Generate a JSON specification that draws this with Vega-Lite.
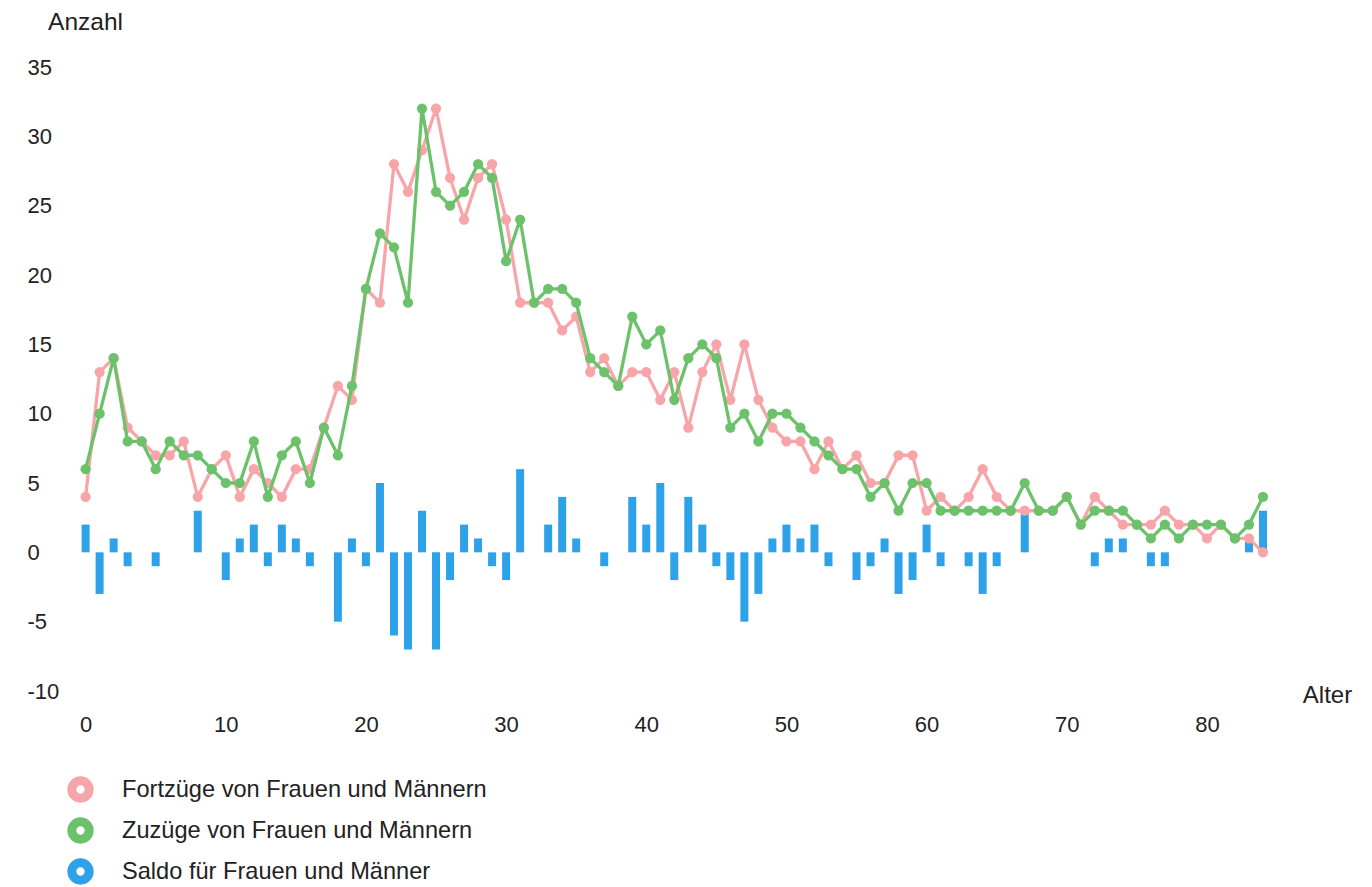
{
  "$schema": "https://vega.github.io/schema/vega-lite/v6.json",
  "width": 1200,
  "height": 624,
  "autosize": {"type": "none"},
  "padding": {"left": 75, "top": 67, "right": 97, "bottom": 196},
  "background": "white",
  "config": {
    "view": {"stroke": null},
    "font": "Liberation Sans",
    "axis": {"labelColor": "#222222", "titleColor": "#222222", "labelFont": "Liberation Sans", "titleFont": "Liberation Sans", "titleFontWeight": "normal"},
    "legend": {"labelFont": "Liberation Sans", "labelColor": "#222222"}
  },
  "data": {
    "values": [
      {"age": 0, "Fortzuege": 4, "Zuzuege": 6, "Saldo": 2},
      {"age": 1, "Fortzuege": 13, "Zuzuege": 10, "Saldo": -3},
      {"age": 2, "Fortzuege": 14, "Zuzuege": 14, "Saldo": 1},
      {"age": 3, "Fortzuege": 9, "Zuzuege": 8, "Saldo": -1},
      {"age": 4, "Fortzuege": 8, "Zuzuege": 8, "Saldo": 0},
      {"age": 5, "Fortzuege": 7, "Zuzuege": 6, "Saldo": -1},
      {"age": 6, "Fortzuege": 7, "Zuzuege": 8, "Saldo": 0},
      {"age": 7, "Fortzuege": 8, "Zuzuege": 7, "Saldo": 0},
      {"age": 8, "Fortzuege": 4, "Zuzuege": 7, "Saldo": 3},
      {"age": 9, "Fortzuege": 6, "Zuzuege": 6, "Saldo": 0},
      {"age": 10, "Fortzuege": 7, "Zuzuege": 5, "Saldo": -2},
      {"age": 11, "Fortzuege": 4, "Zuzuege": 5, "Saldo": 1},
      {"age": 12, "Fortzuege": 6, "Zuzuege": 8, "Saldo": 2},
      {"age": 13, "Fortzuege": 5, "Zuzuege": 4, "Saldo": -1},
      {"age": 14, "Fortzuege": 4, "Zuzuege": 7, "Saldo": 2},
      {"age": 15, "Fortzuege": 6, "Zuzuege": 8, "Saldo": 1},
      {"age": 16, "Fortzuege": 6, "Zuzuege": 5, "Saldo": -1},
      {"age": 17, "Fortzuege": 9, "Zuzuege": 9, "Saldo": 0},
      {"age": 18, "Fortzuege": 12, "Zuzuege": 7, "Saldo": -5},
      {"age": 19, "Fortzuege": 11, "Zuzuege": 12, "Saldo": 1},
      {"age": 20, "Fortzuege": 19, "Zuzuege": 19, "Saldo": -1},
      {"age": 21, "Fortzuege": 18, "Zuzuege": 23, "Saldo": 5},
      {"age": 22, "Fortzuege": 28, "Zuzuege": 22, "Saldo": -6},
      {"age": 23, "Fortzuege": 26, "Zuzuege": 18, "Saldo": -7},
      {"age": 24, "Fortzuege": 29, "Zuzuege": 32, "Saldo": 3},
      {"age": 25, "Fortzuege": 32, "Zuzuege": 26, "Saldo": -7},
      {"age": 26, "Fortzuege": 27, "Zuzuege": 25, "Saldo": -2},
      {"age": 27, "Fortzuege": 24, "Zuzuege": 26, "Saldo": 2},
      {"age": 28, "Fortzuege": 27, "Zuzuege": 28, "Saldo": 1},
      {"age": 29, "Fortzuege": 28, "Zuzuege": 27, "Saldo": -1},
      {"age": 30, "Fortzuege": 24, "Zuzuege": 21, "Saldo": -2},
      {"age": 31, "Fortzuege": 18, "Zuzuege": 24, "Saldo": 6},
      {"age": 32, "Fortzuege": 18, "Zuzuege": 18, "Saldo": 0},
      {"age": 33, "Fortzuege": 18, "Zuzuege": 19, "Saldo": 2},
      {"age": 34, "Fortzuege": 16, "Zuzuege": 19, "Saldo": 4},
      {"age": 35, "Fortzuege": 17, "Zuzuege": 18, "Saldo": 1},
      {"age": 36, "Fortzuege": 13, "Zuzuege": 14, "Saldo": 0},
      {"age": 37, "Fortzuege": 14, "Zuzuege": 13, "Saldo": -1},
      {"age": 38, "Fortzuege": 12, "Zuzuege": 12, "Saldo": 0},
      {"age": 39, "Fortzuege": 13, "Zuzuege": 17, "Saldo": 4},
      {"age": 40, "Fortzuege": 13, "Zuzuege": 15, "Saldo": 2},
      {"age": 41, "Fortzuege": 11, "Zuzuege": 16, "Saldo": 5},
      {"age": 42, "Fortzuege": 13, "Zuzuege": 11, "Saldo": -2},
      {"age": 43, "Fortzuege": 9, "Zuzuege": 14, "Saldo": 4},
      {"age": 44, "Fortzuege": 13, "Zuzuege": 15, "Saldo": 2},
      {"age": 45, "Fortzuege": 15, "Zuzuege": 14, "Saldo": -1},
      {"age": 46, "Fortzuege": 11, "Zuzuege": 9, "Saldo": -2},
      {"age": 47, "Fortzuege": 15, "Zuzuege": 10, "Saldo": -5},
      {"age": 48, "Fortzuege": 11, "Zuzuege": 8, "Saldo": -3},
      {"age": 49, "Fortzuege": 9, "Zuzuege": 10, "Saldo": 1},
      {"age": 50, "Fortzuege": 8, "Zuzuege": 10, "Saldo": 2},
      {"age": 51, "Fortzuege": 8, "Zuzuege": 9, "Saldo": 1},
      {"age": 52, "Fortzuege": 6, "Zuzuege": 8, "Saldo": 2},
      {"age": 53, "Fortzuege": 8, "Zuzuege": 7, "Saldo": -1},
      {"age": 54, "Fortzuege": 6, "Zuzuege": 6, "Saldo": 0},
      {"age": 55, "Fortzuege": 7, "Zuzuege": 6, "Saldo": -2},
      {"age": 56, "Fortzuege": 5, "Zuzuege": 4, "Saldo": -1},
      {"age": 57, "Fortzuege": 5, "Zuzuege": 5, "Saldo": 1},
      {"age": 58, "Fortzuege": 7, "Zuzuege": 3, "Saldo": -3},
      {"age": 59, "Fortzuege": 7, "Zuzuege": 5, "Saldo": -2},
      {"age": 60, "Fortzuege": 3, "Zuzuege": 5, "Saldo": 2},
      {"age": 61, "Fortzuege": 4, "Zuzuege": 3, "Saldo": -1},
      {"age": 62, "Fortzuege": 3, "Zuzuege": 3, "Saldo": 0},
      {"age": 63, "Fortzuege": 4, "Zuzuege": 3, "Saldo": -1},
      {"age": 64, "Fortzuege": 6, "Zuzuege": 3, "Saldo": -3},
      {"age": 65, "Fortzuege": 4, "Zuzuege": 3, "Saldo": -1},
      {"age": 66, "Fortzuege": 3, "Zuzuege": 3, "Saldo": 0},
      {"age": 67, "Fortzuege": 3, "Zuzuege": 5, "Saldo": 3},
      {"age": 68, "Fortzuege": 3, "Zuzuege": 3, "Saldo": 0},
      {"age": 69, "Fortzuege": 3, "Zuzuege": 3, "Saldo": 0},
      {"age": 70, "Fortzuege": 4, "Zuzuege": 4, "Saldo": 0},
      {"age": 71, "Fortzuege": 2, "Zuzuege": 2, "Saldo": 0},
      {"age": 72, "Fortzuege": 4, "Zuzuege": 3, "Saldo": -1},
      {"age": 73, "Fortzuege": 3, "Zuzuege": 3, "Saldo": 1},
      {"age": 74, "Fortzuege": 2, "Zuzuege": 3, "Saldo": 1},
      {"age": 75, "Fortzuege": 2, "Zuzuege": 2, "Saldo": 0},
      {"age": 76, "Fortzuege": 2, "Zuzuege": 1, "Saldo": -1},
      {"age": 77, "Fortzuege": 3, "Zuzuege": 2, "Saldo": -1},
      {"age": 78, "Fortzuege": 2, "Zuzuege": 1, "Saldo": 0},
      {"age": 79, "Fortzuege": 2, "Zuzuege": 2, "Saldo": 0},
      {"age": 80, "Fortzuege": 1, "Zuzuege": 2, "Saldo": 0},
      {"age": 81, "Fortzuege": 2, "Zuzuege": 2, "Saldo": 0},
      {"age": 82, "Fortzuege": 1, "Zuzuege": 1, "Saldo": 0},
      {"age": 83, "Fortzuege": 1, "Zuzuege": 2, "Saldo": 1},
      {"age": 84, "Fortzuege": 0, "Zuzuege": 4, "Saldo": 3}
    ]
  },
  "encoding": {
    "x": {
      "field": "age",
      "type": "quantitative",
      "scale": {"domain": [-0.4, 84.5], "nice": false, "zero": false},
      "axis": {
        "values": [0, 10, 20, 30, 40, 50, 60, 70, 80],
        "title": "Alter",
        "grid": false,
        "domain": false,
        "ticks": false,
        "tickSize": 0,
        "labelFontSize": 22,
        "labelPadding": 33,
        "labelBaseline": "middle",
        "titleFontSize": 24,
        "titleX": 1252,
        "titleY": 4,
        "titleAlign": "center",
        "titleBaseline": "middle",
        "titleAnchor": null
      }
    }
  },
  "layer": [
    {
      "mark": {"type": "bar", "size": 8, "color": "#2ea2e8"},
      "encoding": {
        "y": {
          "field": "Saldo",
          "type": "quantitative",
          "scale": {"domain": [-10, 35], "nice": false},
          "axis": {
            "values": [-10, -5, 0, 5, 10, 15, 20, 25, 30, 35],
            "labelExpr": "'' + datum.value",
            "title": "Anzahl",
            "grid": false,
            "domain": false,
            "ticks": false,
            "tickSize": 0,
            "labelAlign": "left",
            "labelBaseline": "middle",
            "labelPadding": 48,
            "labelFontSize": 22,
            "titleFontSize": 24.5,
            "titleAngle": 0,
            "titleX": 10,
            "titleY": -45,
            "titleAlign": "center",
            "titleBaseline": "middle",
            "titleAnchor": null
          }
        }
      }
    },
    {
      "mark": {"type": "line", "strokeWidth": 3.3},
      "encoding": {
        "y": {"field": "Fortzuege", "type": "quantitative"},
        "color": {
          "datum": "Fortzüge von Frauen und Männern",
          "type": "nominal",
          "scale": {
            "domain": ["Fortzüge von Frauen und Männern", "Zuzüge von Frauen und Männern", "Saldo für Frauen und Männer"],
            "range": ["#f8a5a9", "#6cc26a", "#2ea2e8"]
          },
          "legend": {
            "title": null,
            "orient": "none",
            "legendX": -8,
            "legendY": 709,
            "direction": "vertical",
            "padding": 0,
            "labelFontSize": 23.6,
            "labelLimit": 600,
            "labelOffset": 28,
            "rowPadding": -14,
            "symbolType": "circle",
            "symbolSize": 300,
            "symbolStrokeWidth": 9,
            "symbolFillColor": "white",
            "symbolOpacity": 1
          }
        }
      }
    },
    {
      "mark": {"type": "point", "filled": true, "size": 105, "opacity": 1, "color": "#f8a5a9"},
      "encoding": {
        "y": {"field": "Fortzuege", "type": "quantitative"}
      }
    },
    {
      "mark": {"type": "line", "strokeWidth": 3.3},
      "encoding": {
        "y": {"field": "Zuzuege", "type": "quantitative"},
        "color": {"datum": "Zuzüge von Frauen und Männern", "type": "nominal"}
      }
    },
    {
      "mark": {"type": "point", "filled": true, "size": 105, "opacity": 1, "color": "#6cc26a"},
      "encoding": {
        "y": {"field": "Zuzuege", "type": "quantitative"}
      }
    }
  ]
}
